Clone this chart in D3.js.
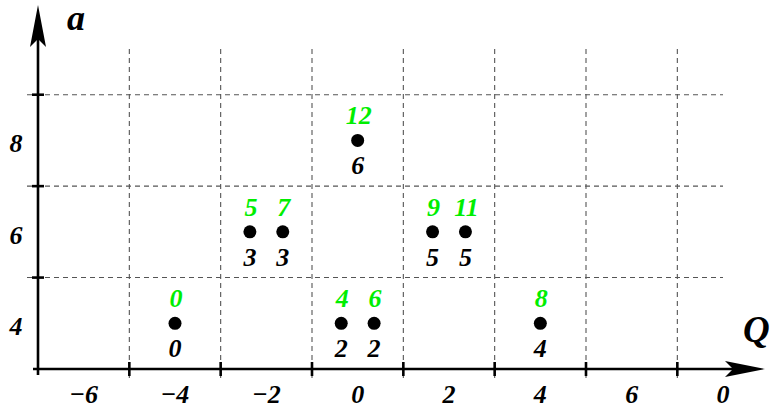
<!DOCTYPE html>
<html>
<head>
<meta charset="utf-8">
<script src="https://cdn.jsdelivr.net/npm/d3@7/dist/d3.min.js"></script>
<style>
html,body{margin:0;padding:0;background:#fff;}
svg{display:block;}
</style>
</head>
<body>
<svg id="chart" width="775" height="415"></svg>
<script>
// data
const pointQ = [-4, -2.36, -1.64, -0.36, 0.36, 0, 1.64, 2.36, 4];
const pointA = [4, 6, 6, 4, 4, 8, 6, 6, 4];
const greenLabels = ["0", "5", "7", "4", "6", "12", "9", "11", "8"];
const blackLabels = ["0", "3", "3", "2", "2", "6", "5", "5", "4"];
const xTickValues = [-6, -4, -2, 0, 2, 4, 6, 8];
const xTickLabels = ["\u22126", "\u22124", "\u22122", "0", "2", "4", "6", "0"];
const yTickValues = [4, 6, 8];
const yTickLabels = ["4", "6", "8"];
const xGrid = [-5, -3, -1, 1, 3, 5, 7];
const yGrid = [5, 7, 9];

const svg = d3.select("#chart");
const x = d3.scaleLinear().domain([-7, 8]).range([38, 723]);
const y = d3.scaleLinear().domain([3, 10]).range([369, 49]);

function txt(sel) {
  return sel.attr("font-family", "Liberation Serif").attr("font-style", "italic").attr("font-weight", "bold");
}

const gridColor = "#555";
svg.append("g").selectAll("line").data(xGrid).join("line")
  .attr("x1", d => x(d)).attr("x2", d => x(d))
  .attr("y1", y(10)).attr("y2", 382)
  .attr("stroke", gridColor).attr("stroke-width", 1.1).attr("stroke-dasharray", "5,4");
svg.append("g").selectAll("line").data(yGrid).join("line")
  .attr("x1", 27).attr("x2", x(8))
  .attr("y1", d => y(d)).attr("y2", d => y(d))
  .attr("stroke", gridColor).attr("stroke-width", 1.1).attr("stroke-dasharray", "5,4");

// axes lines
svg.append("line").attr("x1", 33).attr("x2", 735).attr("y1", y(3)).attr("y2", y(3))
  .attr("stroke", "#000").attr("stroke-width", 2.6);
svg.append("line").attr("x1", x(-7)).attr("x2", x(-7)).attr("y1", 375).attr("y2", 30)
  .attr("stroke", "#000").attr("stroke-width", 2.6);
// ticks
svg.append("g").selectAll("line").data(xGrid).join("line")
  .attr("x1", d => x(d)).attr("x2", d => x(d)).attr("y1", y(3) - 7).attr("y2", y(3) + 7)
  .attr("stroke", "#000").attr("stroke-width", 2.6);
svg.append("g").selectAll("line").data(yGrid).join("line")
  .attr("x1", x(-7) - 6).attr("x2", x(-7) + 6).attr("y1", d => y(d)).attr("y2", d => y(d))
  .attr("stroke", "#000").attr("stroke-width", 2.6);

// arrowheads
const ax = x(-7), ay = y(3);
svg.append("path")
  .attr("d", `M${ax},5 L${ax - 8},47 L${ax},39 L${ax + 8},47 Z`).attr("fill", "#000");
svg.append("path")
  .attr("d", `M765,${ay} L725,${ay - 8} L733,${ay} L725,${ay + 8} Z`).attr("fill", "#000");

// axis titles
txt(svg.append("text")).attr("x", 76).attr("y", 30).attr("text-anchor", "middle")
  .attr("font-size", 36).text("a");
txt(svg.append("text")).attr("x", 743).attr("y", 342).attr("text-anchor", "start")
  .attr("font-size", 37).text("Q");

// tick labels
txt(svg.append("g").selectAll("text").data(xTickValues).join("text"))
  .attr("x", d => x(d)).attr("y", 403).attr("text-anchor", "middle")
  .attr("font-size", 26).text((d, i) => xTickLabels[i]);
txt(svg.append("g").selectAll("text").data(yTickValues).join("text"))
  .attr("x", 16).attr("y", d => y(d) + 12).attr("text-anchor", "middle")
  .attr("font-size", 26).text((d, i) => yTickLabels[i]);

// points
const idx = d3.range(pointQ.length);
svg.append("g").selectAll("circle").data(idx).join("circle")
  .attr("cx", i => x(pointQ[i])).attr("cy", i => y(pointA[i])).attr("r", 6.5).attr("fill", "#000");
txt(svg.append("g").selectAll("text").data(idx).join("text"))
  .attr("x", i => x(pointQ[i]) + 1).attr("y", i => y(pointA[i]) - 16).attr("text-anchor", "middle")
  .attr("font-size", 26).attr("fill", "#00ee00").text(i => greenLabels[i]);
txt(svg.append("g").selectAll("text").data(idx).join("text"))
  .attr("x", i => x(pointQ[i])).attr("y", i => y(pointA[i]) + 34).attr("text-anchor", "middle")
  .attr("font-size", 26).attr("fill", "#000").text(i => blackLabels[i]);
</script>
</body>
</html>
